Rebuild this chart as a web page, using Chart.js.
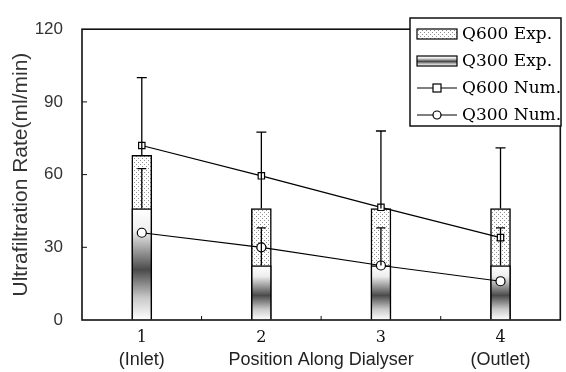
<!DOCTYPE html>
<html>
<head>
<meta charset="utf-8">
<script src="https://cdn.jsdelivr.net/npm/chart.js@4"></script>
<style>
html, body { margin: 0; padding: 0; background: #fff; }
#wrap { width: 566px; height: 372px; }
</style>
</head>
<body>
<div id="wrap"><canvas id="grafico"></canvas></div>
<script>
const categorias = ['1', '2', '3', '4'];
const subEtiquetas = ['(Inlet)', '', '', '(Outlet)'];
const tituloX = 'Position Along Dialyser';
const tituloY = 'Ultrafiltration Rate(ml/min)';
const q600Exp = [68, 46, 46, 46];
const q600ExpSup = [100, 77.5, 78, 71];   // extremo superior de la barra de error
const q300Exp = [46, 22.5, 22.5, 22.5];
const q300ExpSup = [62.5, 38, 38, 38];
const q600Num = [72, 59.5, 46.5, 34];
const q300Num = [36, 30, 22.5, 16];
const yMin = 0, yMax = 120, yPaso = 30;
const nombres = ['Q600 Exp.', 'Q300 Exp.', 'Q600 Num.', 'Q300 Num.'];

const canvas = document.getElementById('grafico');
const ctx = canvas.getContext('2d');

function patronPuntos() {
    const c = document.createElement('canvas');
    c.width = 4; c.height = 4;
    const g = c.getContext('2d');
    g.fillStyle = '#fff';
    g.fillRect(0, 0, 4, 4);
    g.fillStyle = '#909090';
    g.fillRect(0, 0, 1, 1);
    g.fillRect(2, 2, 1, 1);
    return ctx.createPattern(c, 'repeat');
}
const puntos = patronPuntos();

function degradado(top, bottom) {
    const g = ctx.createLinearGradient(0, top, 0, bottom);
    g.addColorStop(0, '#ffffff');
    g.addColorStop(0.2, '#eeeeee');
    g.addColorStop(0.55, '#4a4a4a');
    g.addColorStop(0.8, '#c8c8c8');
    g.addColorStop(1, '#ffffff');
    return g;
}

const marcoYErrores = {
    id: 'marcoYErrores',
    afterDatasetsDraw(chart) {
        const c = chart.ctx;
        const x = chart.scales.x, y = chart.scales.y;
        c.save();
        c.strokeStyle = '#000';
        c.lineWidth = 1.3;
        const dibujarError = (base, sup, tapa) => {
            base.forEach((v, i) => {
                const px = x.getPixelForValue(i);
                const y0 = y.getPixelForValue(v);
                const y1 = y.getPixelForValue(sup[i]);
                c.beginPath();
                c.moveTo(px, y0); c.lineTo(px, y1);
                c.moveTo(px - tapa, y1); c.lineTo(px + tapa, y1);
                c.stroke();
            });
        };
        dibujarError(q600Exp, q600ExpSup, 5);
        dibujarError(q300Exp, q300ExpSup, 4.5);
        c.restore();
    },
    afterDraw(chart) {
        const c = chart.ctx;
        const a = chart.chartArea;
        const x = chart.scales.x, y = chart.scales.y;
        c.save();
        // marco
        c.strokeStyle = '#111';
        c.lineWidth = 1.6;
        c.strokeRect(a.left, a.top, a.right - a.left, a.bottom - a.top);
        // marcas interiores
        c.lineWidth = 1;
        c.beginPath();
        for (let v = yMin + yPaso; v < yMax; v += yPaso) {
            const py = y.getPixelForValue(v);
            c.moveTo(a.left, py); c.lineTo(a.left + 5, py);
        }
        for (let i = 0; i < categorias.length - 1; i++) {
            const px = x.getPixelForValue(i + 0.5);
            c.moveTo(px, a.bottom); c.lineTo(px, a.bottom - 4);
        }
        c.stroke();

        // segunda fila del eje x
        c.fillStyle = '#222';
        c.font = '18px "Liberation Sans"';
        c.textAlign = 'center';
        c.textBaseline = 'middle';
        subEtiquetas.forEach((t, i) => {
            if (t) c.fillText(t, x.getPixelForValue(i), 360);
        });
        c.fillText(tituloX, x.getPixelForValue(1.5), 360);

        // leyenda
        const lx = 410, ly = 18, lw = 151, lh = 108;
        c.fillStyle = '#fff';
        c.fillRect(lx, ly, lw, lh);
        c.strokeStyle = '#111';
        c.lineWidth = 1.5;
        c.strokeRect(lx, ly, lw, lh);
        const filas = [34, 61, 88, 115];
        const sx = 417, sw = 40;
        c.lineWidth = 1.2;
        c.strokeStyle = '#000';
        // Q600 Exp.
        c.fillStyle = puntos;
        c.fillRect(sx, filas[0] - 5, sw, 10);
        c.strokeRect(sx, filas[0] - 5, sw, 10);
        // Q300 Exp.
        c.fillStyle = degradado(filas[1] - 5, filas[1] + 5);
        c.fillRect(sx, filas[1] - 5, sw, 10);
        c.strokeRect(sx, filas[1] - 5, sw, 10);
        // lineas
        [2, 3].forEach(k => {
            const fy = filas[k];
            c.beginPath();
            c.moveTo(sx, fy); c.lineTo(sx + sw, fy);
            c.stroke();
            c.fillStyle = '#fff';
            if (k === 2) {
                c.fillRect(sx + sw / 2 - 4, fy - 4, 8, 8);
                c.strokeRect(sx + sw / 2 - 4, fy - 4, 8, 8);
            } else {
                c.beginPath();
                c.arc(sx + sw / 2, fy, 4, 0, Math.PI * 2);
                c.fill();
                c.stroke();
            }
        });
        c.fillStyle = '#000';
        c.font = '17px "DejaVu Serif"';
        c.textAlign = 'left';
        nombres.forEach((t, k) => c.fillText(t, 462, filas[k] + 1));
        c.restore();
    }
};

new Chart(ctx, {
    type: 'bar',
    data: {
        labels: categorias,
        datasets: [
            {
                label: nombres[2],
                type: 'line',
                data: q600Num,
                borderColor: '#000',
                borderWidth: 1.2,
                pointStyle: 'rect',
                pointRadius: 4.5,
                pointBackgroundColor: '#fff',
                pointBorderColor: '#000',
                pointBorderWidth: 1.2,
                order: 0
            },
            {
                label: nombres[3],
                type: 'line',
                data: q300Num,
                borderColor: '#000',
                borderWidth: 1.2,
                pointStyle: 'circle',
                pointRadius: 4.5,
                pointBackgroundColor: '#fff',
                pointBorderColor: '#000',
                pointBorderWidth: 1.2,
                order: 0
            },
            {
                label: nombres[1],
                data: q300Exp,
                grouped: false,
                barThickness: 20,
                borderColor: '#000',
                borderWidth: 1.5,
                backgroundColor: c => {
                    const chart = c.chart;
                    if (!chart.chartArea || c.type !== 'data') return '#888';
                    const y = chart.scales.y;
                    return degradado(y.getPixelForValue(q300Exp[c.dataIndex]), y.getPixelForValue(0));
                },
                order: 1
            },
            {
                label: nombres[0],
                data: q600Exp,
                grouped: false,
                barThickness: 20,
                borderColor: '#000',
                borderWidth: 1.5,
                backgroundColor: puntos,
                order: 2
            }
        ]
    },
    options: {
        responsive: true,
        maintainAspectRatio: false,
        animation: false,
        layout: { padding: { top: 15, right: 1, left: 0, bottom: 0 } },
        plugins: {
            legend: { display: false },
            tooltip: { enabled: false }
        },
        scales: {
            x: {
                grid: { display: true, drawOnChartArea: false, drawTicks: false },
                border: { display: false },
                ticks: {
                    padding: 8,
                    color: '#111',
                    font: { family: 'DejaVu Serif', size: 16 }
                },
                afterFit: s => { s.height = 52; }
            },
            y: {
                min: yMin,
                max: yMax,
                grid: { display: true, drawOnChartArea: false, drawTicks: false },
                border: { display: false },
                ticks: {
                    stepSize: yPaso,
                    padding: 19,
                    color: '#333',
                    font: { family: 'Liberation Sans', size: 17 }
                },
                title: {
                    display: true,
                    text: tituloY,
                    color: '#333',
                    padding: { top: 9, bottom: 0 },
                    font: { family: 'Liberation Sans', size: 21 }
                },
                afterFit: s => { s.width = 82; }
            }
        }
    },
    plugins: [marcoYErrores]
});
</script>
</body>
</html>
